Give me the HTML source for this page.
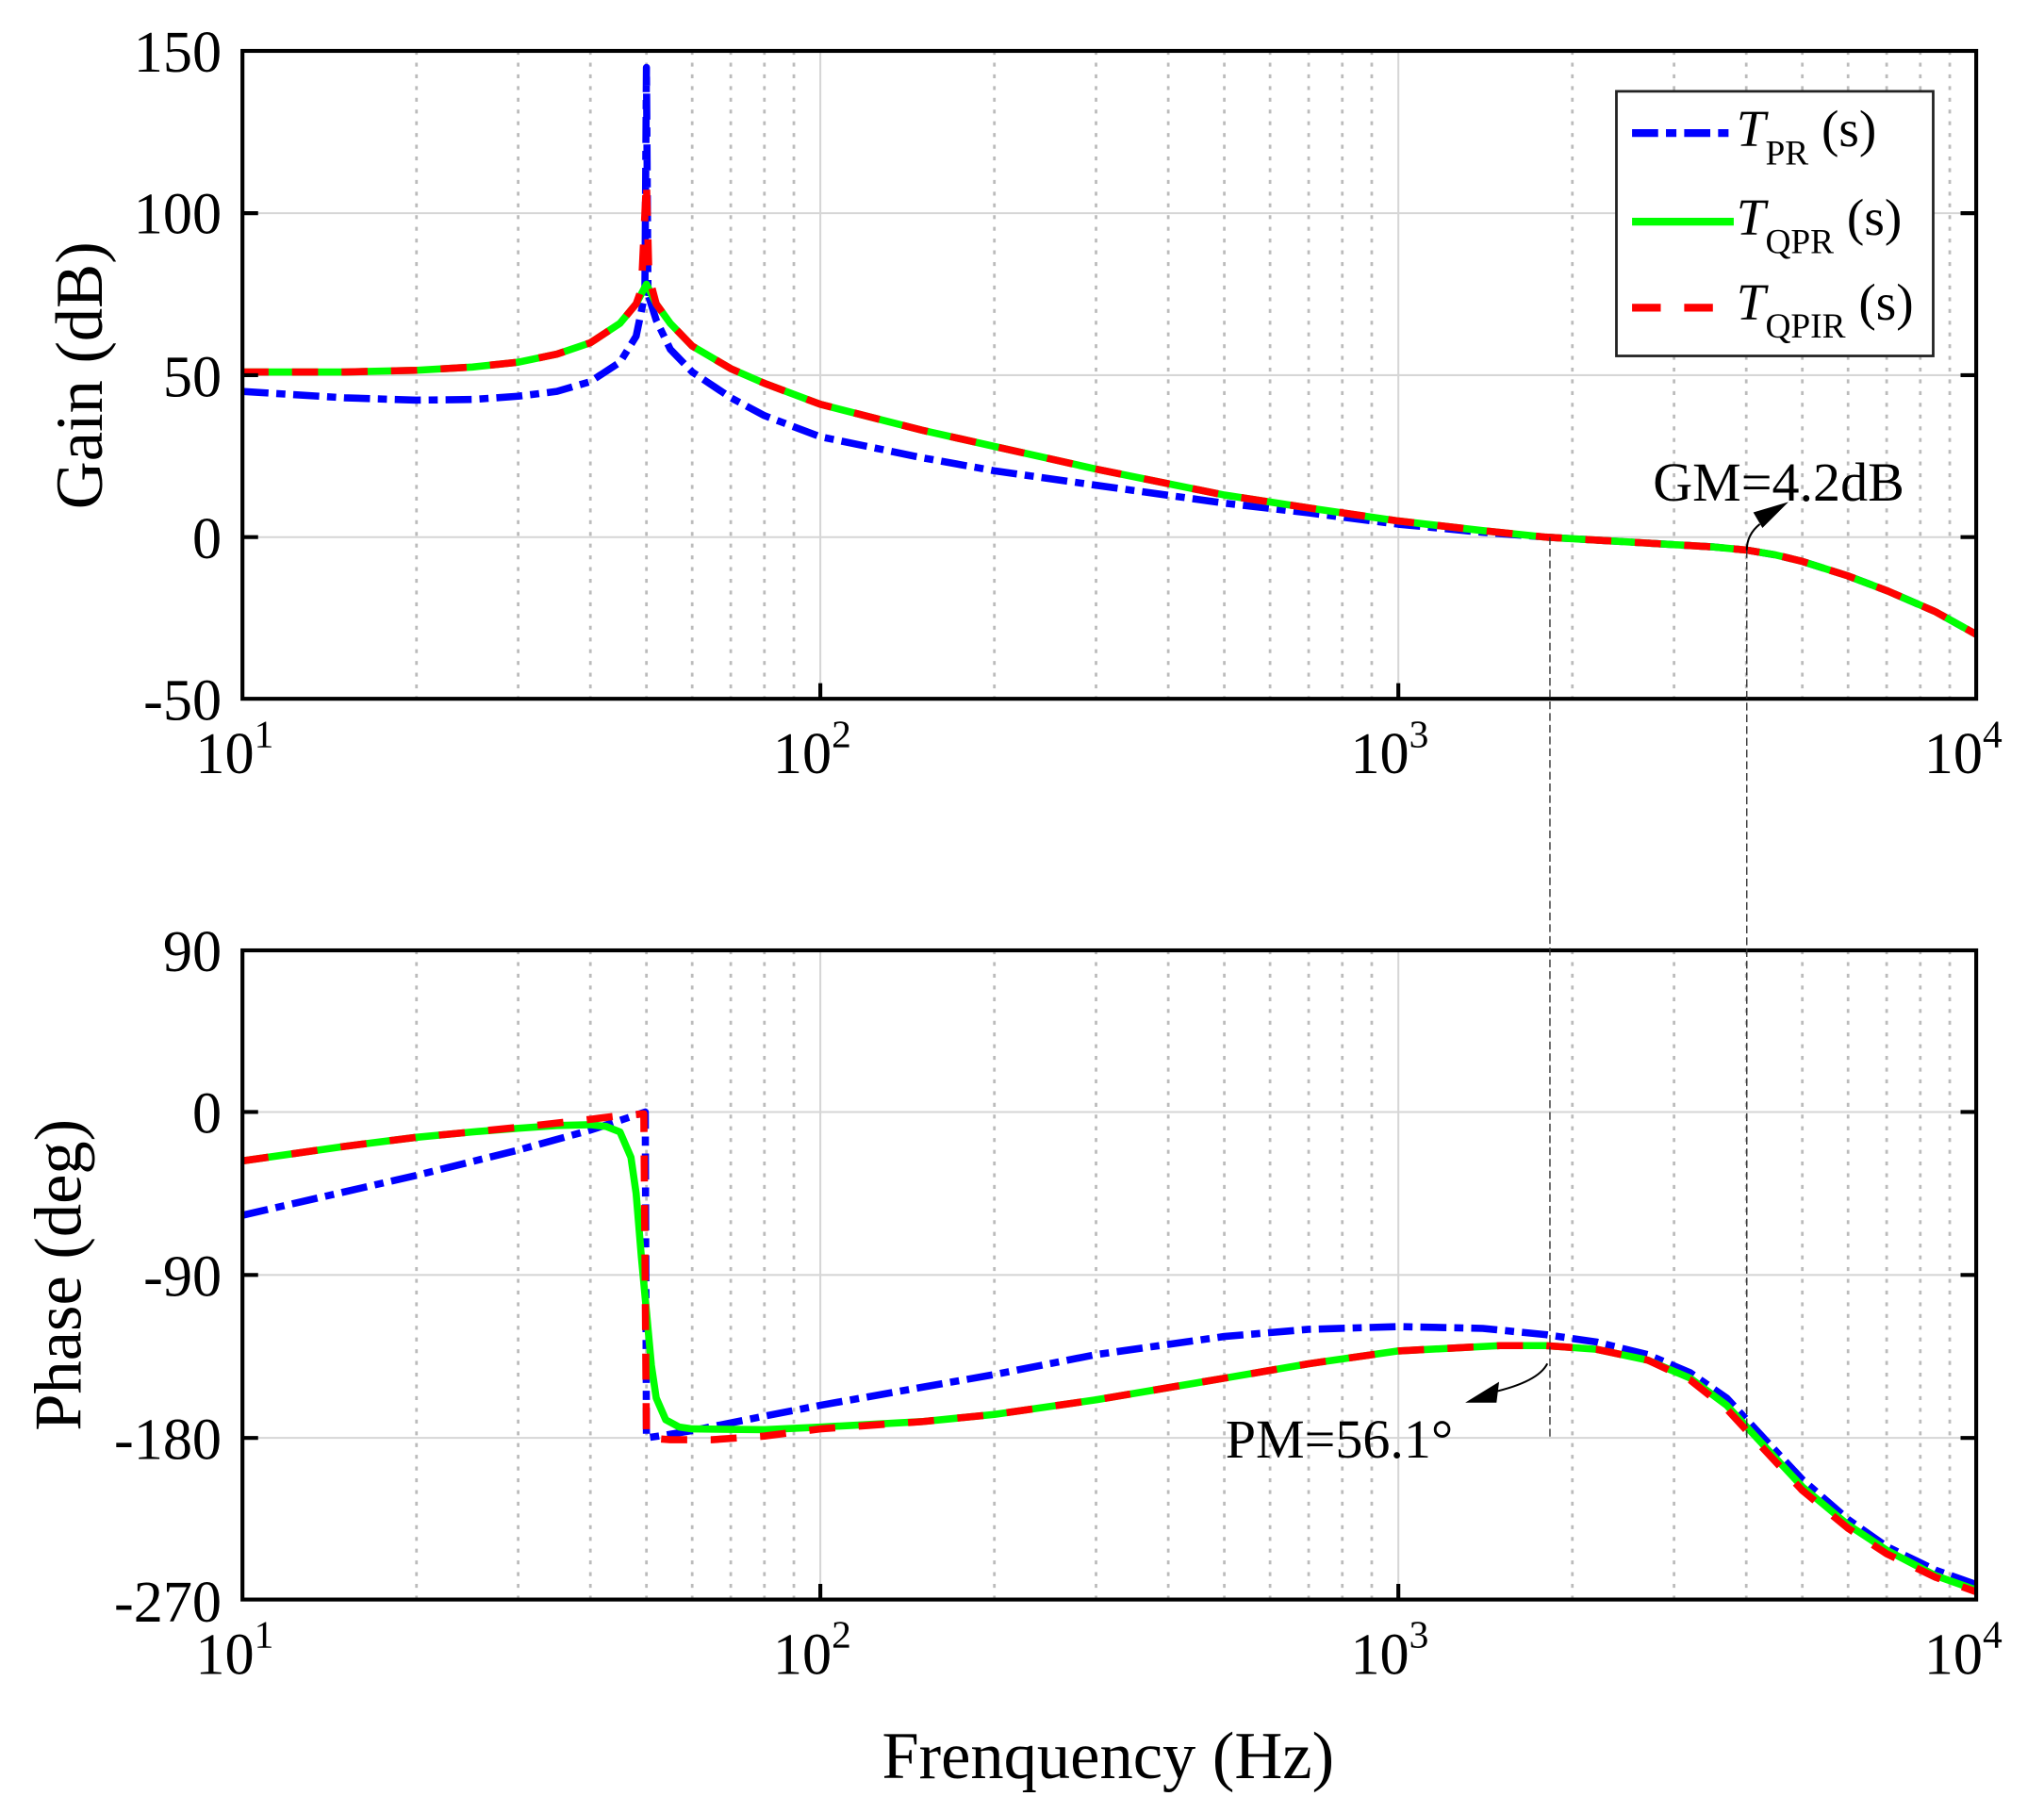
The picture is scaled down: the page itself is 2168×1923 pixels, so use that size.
<!DOCTYPE html>
<html><head><meta charset="utf-8"><style>html,body{margin:0;padding:0;background:#fff}svg{display:block}</style></head>
<body>
<svg width="2168" height="1923" viewBox="0 0 1568 1390.7" xmlns="http://www.w3.org/2000/svg" font-family="Liberation Serif, serif">
<path stroke="#bbb" stroke-width="2" stroke-dasharray="3,6" fill="none" d="
M319.5,39V536M397.5,39V536M452.9,39V536M495.9,39V536M531,39V536M560.6,39V536M586.4,39V536M609,39V536
M762.8,39V536M840.8,39V536M896.2,39V536M939.2,39V536M974.3,39V536M1003.9,39V536M1029.7,39V536M1052.3,39V536
M1206.2,39V536M1284.2,39V536M1339.6,39V536M1382.6,39V536M1417.7,39V536M1447.3,39V536M1473.1,39V536M1495.7,39V536
M319.5,729V1227M397.5,729V1227M452.9,729V1227M495.9,729V1227M531,729V1227M560.6,729V1227M586.4,729V1227M609,729V1227
M762.8,729V1227M840.8,729V1227M896.2,729V1227M939.2,729V1227M974.3,729V1227M1003.9,729V1227M1029.7,729V1227M1052.3,729V1227
M1206.2,729V1227M1284.2,729V1227M1339.6,729V1227M1382.6,729V1227M1417.7,729V1227M1447.3,729V1227M1473.1,729V1227M1495.7,729V1227"/>
<path stroke="#d6d6d6" stroke-width="1.5" fill="none" d="
M629.3,39V536M1072.7,39V536M629.3,729V1227M1072.7,729V1227
M186,163.5H1516M186,287.75H1516M186,412H1516
M186,853H1516M186,978H1516M186,1103H1516"/>
<g fill="none" stroke-width="5.5" stroke-linejoin="round">
<path stroke="#00f" stroke-dasharray="20,6,7,6" d="M186,300.2 L264.1,305.1 L319.5,306.9 L362.4,306.4 L397.5,303.9 L427.2,300.2 L452.9,292.7 L475.6,277.8 L488,257.9 L494.7,225.6 L495.9,51.7 L497.1,225.6 L503.4,245.5 L514.2,267.9 L531,285.3 L560.7,305.1 L586.4,318.8 L629.3,335 L707.4,351.1 L762.8,361.1 L840.8,372.2 L939.2,385.9 L1004,393.4 L1072.7,402.1 L1137.4,408.3 L1185.8,412 L1249.1,415.7 L1313.9,419.5 L1339.6,421.9 L1362.3,425.7 L1382.6,430.6 L1417.7,441.8 L1447.3,453 L1484.7,469.2 L1516,486.6"/>
<path stroke="#0f0" d="M186,285.3 L264.1,285.3 L319.5,284.0 L362.4,281.5 L397.5,277.8 L427.2,271.6 L452.9,262.9 L475.6,248.0 L488,233.1 L495.9,218 L503.4,233.1 L514.2,248.0 L531,265.4 L560.7,282.8 L586.4,294.0 L629.3,310.1 L707.4,330.0 L762.8,342.4 L840.8,359.8 L939.2,379.7 L1004,389.6 L1072.7,399.6 L1137.4,407 L1185.8,412 L1249.1,415.7 L1313.9,419.5 L1339.6,421.9 L1362.3,425.7 L1382.6,430.6 L1417.7,441.8 L1447.3,453 L1484.7,469.2 L1516,486.6"/>
<path stroke="#f00" stroke-dasharray="20,18" d="M186,285.3 L264.1,285.3 L319.5,284.0 L362.4,281.5 L397.5,277.8 L427.2,271.6 L452.9,262.9 L475.6,248.0 L488,233.1 L492,222 L495.9,138.6 L497.8,212 L503.4,233.1 L514.2,248.0 L531,265.4 L560.7,282.8 L586.4,294.0 L629.3,310.1 L707.4,330.0 L762.8,342.4 L840.8,359.8 L939.2,379.7 L1004,389.6 L1072.7,399.6 L1137.4,407 L1185.8,412 L1249.1,415.7 L1313.9,419.5 L1339.6,421.9 L1362.3,425.7 L1382.6,430.6 L1417.7,441.8 L1447.3,453 L1484.7,469.2 L1516,486.6"/>
<path stroke="#00f" stroke-dasharray="20,6,7,6" d="M186,932.2 L319.5,901.6 L397.5,882.2 L452.9,866.9 L495,853 L495.9,1103 L514.2,1100.2 L531,1097.4 L586.4,1086.3 L629.3,1078 L707.4,1064.1 L762.8,1054.4 L840.8,1039.1 L939.2,1025.2 L1004,1019.7 L1072.7,1017.6 L1137.4,1019 L1185.8,1023.8 L1224.5,1029.4 L1263.9,1039.1 L1296.6,1053 L1324.6,1072.4 L1349,1098.8 L1382.6,1134.9 L1417.7,1165.5 L1447.3,1186.3 L1484.7,1204.4 L1516,1215.5"/>
<path stroke="#0f0" d="M186,890.5 L264.1,879.4 L319.5,872.4 L362.4,868.3 L397.5,865.5 L427.2,863.4 L452.9,862.7 L465,864.1 L475.6,868.3 L484,887.7 L488,915.5 L492,964.1 L495.9,1005.8 L499.7,1047.4 L503.4,1072.4 L510.7,1089.1 L521.1,1094.7 L531,1096.1 L586.4,1096.7 L629.3,1094.7 L707.4,1090.5 L762.8,1085 L840.8,1073.8 L939.2,1057.2 L1004,1046.1 L1072.7,1036.3 L1150.7,1032.2 L1185.8,1032.2 L1224.5,1035 L1263.9,1043.3 L1296.6,1057.2 L1324.6,1078 L1349,1104.4 L1382.6,1140.5 L1417.7,1169.7 L1447.3,1189.1 L1484.7,1208.6 L1516,1219.7"/>
<path stroke="#f00" stroke-dasharray="20,18" d="M186,890.5 L264.1,879.4 L319.5,872.4 L362.4,868.3 L397.5,864.8 L452.9,858.6 L475.6,855.8 L493.9,854.4 L495.9,1103 L514.2,1104.4 L546.4,1104.4 L586.4,1101.6 L629.3,1096.1 L707.4,1090.5 L762.8,1085 L840.8,1073.8 L939.2,1057.2 L1004,1046.1 L1072.7,1036.3 L1150.7,1032.2 L1185.8,1032.2 L1224.5,1035 L1263.9,1043.3 L1296.6,1058.6 L1324.6,1080.8 L1349,1107.2 L1382.6,1143.3 L1417.7,1172.4 L1447.3,1191.9 L1484.7,1209.9 L1516,1221.1"/>
</g>
<g fill="none" stroke="#000" stroke-width="3">
<rect x="186" y="39" width="1330" height="497"/>
<rect x="186" y="729" width="1330" height="498"/>
<path d="M186,163.5h12M186,287.75h12M186,412h12M1504,163.5h12M1504,287.75h12M1504,412h12
M186,853h12M186,978h12M186,1103h12M1504,853h12M1504,978h12M1504,1103h12
M629.3,536v-12M1072.7,536v-12M629.3,1227v-12M1072.7,1227v-12"/>
</g>
<g font-size="45" fill="#000" text-anchor="end">
<text x="170" y="55">150</text><text x="170" y="179">100</text><text x="170" y="304">50</text><text x="170" y="428">0</text><text x="170" y="552">-50</text>
<text x="170" y="745">90</text><text x="170" y="869">0</text><text x="170" y="994">-90</text><text x="170" y="1119">-180</text><text x="170" y="1244">-270</text>
</g>
<g font-size="45" fill="#000" text-anchor="middle">
<text x="180" y="593">10<tspan font-size="30" dy="-20">1</tspan></text>
<text x="623" y="593">10<tspan font-size="30" dy="-20">2</tspan></text>
<text x="1066" y="593">10<tspan font-size="30" dy="-20">3</tspan></text>
<text x="1506" y="593">10<tspan font-size="30" dy="-20">4</tspan></text>
<text x="180" y="1284">10<tspan font-size="30" dy="-20">1</tspan></text>
<text x="623" y="1284">10<tspan font-size="30" dy="-20">2</tspan></text>
<text x="1066" y="1284">10<tspan font-size="30" dy="-20">3</tspan></text>
<text x="1506" y="1284">10<tspan font-size="30" dy="-20">4</tspan></text>
</g>
<g stroke="#333" stroke-width="1" stroke-dasharray="6,3" fill="none">
<line x1="1189" y1="412" x2="1189" y2="1105"/>
<line x1="1340" y1="422" x2="1340" y2="1105"/>
</g>
<text x="1268" y="384" font-size="42">GM=4.2dB</text>
<path d="M1340,422 Q1340,410 1350,402" stroke="#000" stroke-width="1.5" fill="none"/>
<polygon points="1345,393 1372,385 1352,405" fill="#000"/>
<text x="940" y="1118" font-size="42">PM=56.1°</text>
<path d="M1187,1046 Q1180,1060 1145,1068" stroke="#000" stroke-width="1.5" fill="none"/>
<polygon points="1124,1076 1150,1060 1148,1076" fill="#000"/>
<text x="62" y="288" font-size="51" text-anchor="middle" transform="rotate(-90 62 288)" dy="16">Gain (dB)</text>
<text x="62" y="978" font-size="51" text-anchor="middle" transform="rotate(-90 62 978)" dy="0">Phase (deg)</text>
<text x="850" y="1364" font-size="51" text-anchor="middle">Frenquency (Hz)</text>
<rect x="1240" y="70" width="243" height="203" fill="#fff" stroke="#222" stroke-width="2"/>
<line x1="1252" y1="102" x2="1330" y2="102" stroke="#00f" stroke-width="6" stroke-dasharray="20,6,8,6"/>
<line x1="1252" y1="170" x2="1330" y2="170" stroke="#0f0" stroke-width="6"/>
<line x1="1252" y1="236" x2="1330" y2="236" stroke="#f00" stroke-width="6" stroke-dasharray="22,18"/>
<g font-size="40">
<text x="1332" y="112"><tspan font-style="italic">T</tspan><tspan font-size="27" dy="14">PR</tspan><tspan dy="-14"> (s)</tspan></text>
<text x="1332" y="180"><tspan font-style="italic">T</tspan><tspan font-size="27" dy="14">QPR</tspan><tspan dy="-14"> (s)</tspan></text>
<text x="1332" y="245"><tspan font-style="italic">T</tspan><tspan font-size="27" dy="14">QPIR</tspan><tspan dy="-14"> (s)</tspan></text>
</g>
</svg>
</body></html>
